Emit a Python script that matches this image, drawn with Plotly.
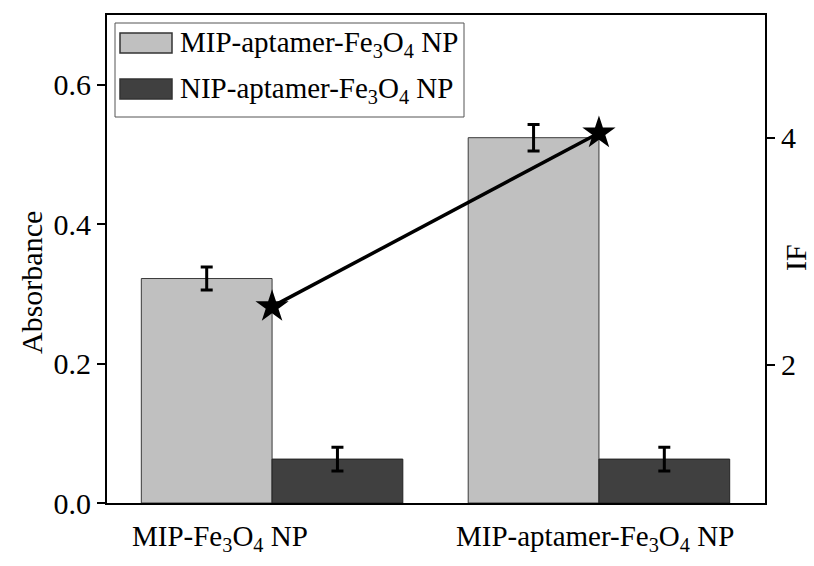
import plotly.graph_objects as go

categories = ["MIP-Fe<sub>3</sub>O<sub>4</sub> NP", "MIP-aptamer-Fe<sub>3</sub>O<sub>4</sub> NP"]
series_names = ["MIP-aptamer-Fe<sub>3</sub>O<sub>4</sub> NP", "NIP-aptamer-Fe<sub>3</sub>O<sub>4</sub> NP"]
mip_values = [0.322, 0.524]
mip_errors = [0.0165, 0.019]
nip_values = [0.063, 0.063]
nip_errors = [0.017, 0.017]
if_values = [2.51, 4.04]
left_ticks = [0.0, 0.2, 0.4, 0.6]
right_ticks = [2, 4]

FONT = "Liberation Serif"
FS_TICK = 30
FS_TEXT = 29
light = "#c0c0c0"
dark = "#404040"

x_idx = list(range(len(categories)))

fig = go.Figure()
fig.add_trace(go.Bar(
    x=x_idx, y=mip_values, name=series_names[0],
    marker=dict(color=light, line=dict(color="#3a3a3a", width=1)),
    error_y=dict(type="data", array=mip_errors, color="black", thickness=3, width=6),
    showlegend=False,
))
fig.add_trace(go.Bar(
    x=x_idx, y=nip_values, name=series_names[1],
    marker=dict(color=dark, line=dict(color="#222222", width=1)),
    error_y=dict(type="data", array=nip_errors, color="black", thickness=3, width=6),
    showlegend=False,
))
fig.add_trace(go.Scatter(
    x=x_idx, y=if_values, yaxis="y2", mode="lines+markers",
    line=dict(color="black", width=3.5),
    marker=dict(symbol="star", size=25, color="black"),
    showlegend=False,
))

# plot area in pixels: x 107..765, y 15..503
W, H = 814, 566
L, R, T, B = 107, 765, 15, 503


def px(x):
    return (x - L) / (R - L)


def py(y):
    return (B - y) / (B - T)


fig.update_layout(
    width=W, height=H,
    margin=dict(l=L, r=W - R, t=T, b=H - B, pad=0),
    paper_bgcolor="white", plot_bgcolor="white",
    barmode="group", bargap=0.2, bargroupgap=0,
    font=dict(family=FONT, size=FS_TEXT, color="black"),
    xaxis=dict(
        range=[-0.505, 1.508], showticklabels=False, ticks="",
        showline=True, linecolor="black", linewidth=2, mirror=True,
        showgrid=False, zeroline=False,
    ),
    yaxis=dict(
        range=[0, 0.70], tickvals=left_ticks, tickformat=".1f",
        ticks="outside", ticklen=8, tickwidth=2, tickcolor="black",
        showline=True, linecolor="black", linewidth=2,
        showgrid=False, zeroline=False,
        tickfont=dict(family=FONT, size=FS_TICK),
    ),
    yaxis2=dict(
        range=[0.78, 5.08], tickvals=right_ticks, overlaying="y", side="right",
        ticks="outside", ticklen=8, tickwidth=2, tickcolor="black",
        showline=True, linecolor="black", linewidth=2,
        showgrid=False, zeroline=False,
        tickfont=dict(family=FONT, size=FS_TICK),
    ),
)

# x tick labels (placed as in the original figure)
label_shift = [-52, -4]
for i, cat in enumerate(categories):
    fig.add_annotation(
        x=x_idx[i], xref="x", y=py(538), yref="paper", text=cat,
        showarrow=False, xanchor="center", yanchor="middle", xshift=label_shift[i],
        font=dict(family=FONT, size=FS_TEXT),
    )

# axis titles
fig.add_annotation(x=px(31), xref="paper", y=py(283), yref="paper", text="Absorbance",
                   textangle=-90, showarrow=False, xanchor="center", yanchor="middle",
                   font=dict(family=FONT, size=FS_TICK))
fig.add_annotation(x=px(795), xref="paper", y=py(258), yref="paper", text="IF",
                   textangle=-90, showarrow=False, xanchor="center", yanchor="middle",
                   font=dict(family=FONT, size=FS_TICK))

# legend box
fig.add_shape(type="rect", xref="paper", yref="paper",
              x0=px(115), x1=px(464), y0=py(117), y1=py(23),
              line=dict(color="#555555", width=1), fillcolor="white", layer="above")
swatches = [(33, 53, light), (79, 99, dark)]
text_y = [44, 90]
for (ya, yb, col), name, ty in zip(swatches, series_names, text_y):
    fig.add_shape(type="rect", xref="paper", yref="paper",
                  x0=px(120), x1=px(172), y0=py(yb), y1=py(ya),
                  line=dict(color="#333333", width=1.5), fillcolor=col, layer="above")
    fig.add_annotation(x=px(178), xref="paper", y=py(ty), yref="paper", text=name,
                       showarrow=False, xanchor="left", yanchor="middle",
                       font=dict(family=FONT, size=FS_TEXT))

fig.write_html("out.html")
